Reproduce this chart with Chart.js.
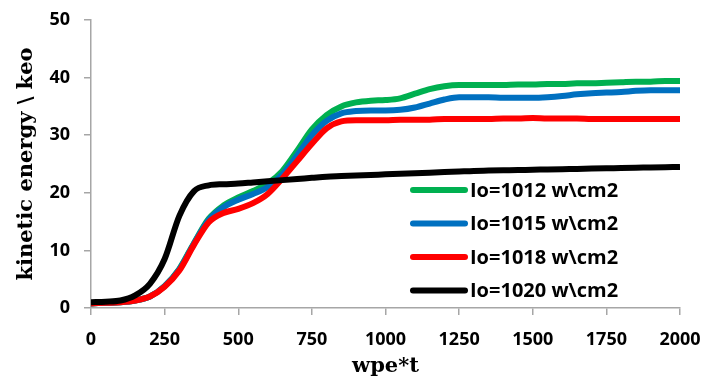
<!DOCTYPE html>
<html>
<head>
<meta charset="utf-8">
<script src="https://cdn.jsdelivr.net/npm/chart.js@4"></script>
<style>
    body { margin: 0; background: #fff; }
    canvas { display: block; }
</style>
</head>
<body>
<canvas id="chart1" width="707" height="383"></canvas>
<script>

    /************** DATA **************/
    let timeSteps = [0, 50, 100, 150, 200, 250, 300, 350, 400, 450, 500, 550, 600, 650, 700, 750, 800, 850, 900, 950,
        1000, 1050, 1100, 1150, 1200, 1250, 1300, 1350, 1400, 1450, 1500, 1550, 1600, 1650, 1700, 1750, 1800, 1850, 1900, 1950, 2000]

    let io1012 = [0.8, 0.9, 1.0, 1.3, 2.0, 3.8, 6.8, 11.3, 15.5, 17.8, 19.2, 20.3, 21.6, 23.8, 27.3, 31.0, 33.5, 35.0, 35.7, 36.0,
        36.1, 36.4, 37.2, 38.0, 38.5, 38.7, 38.7, 38.7, 38.7, 38.8, 38.8, 38.9, 38.9, 39.0, 39.0, 39.1, 39.2, 39.3, 39.3, 39.4, 39.4]
    let io1015 = [0.8, 0.9, 1.0, 1.3, 2.0, 3.8, 6.7, 11.2, 15.3, 17.5, 18.8, 19.8, 21.0, 23.2, 26.5, 30.0, 32.5, 33.8, 34.2, 34.3,
        34.3, 34.4, 34.8, 35.5, 36.2, 36.6, 36.6, 36.6, 36.5, 36.5, 36.5, 36.6, 36.8, 37.1, 37.3, 37.4, 37.5, 37.7, 37.8, 37.8, 37.8]
    let io1018 = [0.8, 0.9, 1.0, 1.3, 2.0, 3.7, 6.5, 11.0, 14.9, 16.5, 17.2, 18.2, 19.8, 22.5, 25.5, 28.5, 31.2, 32.4, 32.6, 32.6,
        32.6, 32.7, 32.7, 32.7, 32.8, 32.8, 32.8, 32.8, 32.9, 32.9, 33.0, 32.9, 32.9, 32.9, 32.8, 32.8, 32.8, 32.8, 32.8, 32.8, 32.8]
    let io1020 = [1.0, 1.1, 1.3, 2.2, 4.2, 8.5, 16.0, 20.3, 21.3, 21.5, 21.6, 21.8, 22.0, 22.2, 22.4, 22.6, 22.8, 22.9, 23.0, 23.1,
        23.2, 23.3, 23.4, 23.5, 23.6, 23.7, 23.8, 23.85, 23.9, 23.95, 24.0, 24.05, 24.1, 24.15, 24.2, 24.25, 24.3, 24.35, 24.4, 24.45, 24.5]

    let seriesLabels = ["Io=1012 w\\cm2", "Io=1015 w\\cm2", "Io=1018 w\\cm2", "Io=1020 w\\cm2"]
    let seriesColors = ["#00b050", "#0070c0", "#ff0000", "#000000"]
    let xTickStep = 250
    let yTickStep = 10


    /************** CHART **************/
    function toPoints(values) {
        return values.map((v, i) => ({ x: timeSteps[i], y: v }))
    }

    let allSeries = [io1012, io1015, io1018, io1020]
    let datasets = allSeries.map((values, i) => ({
        label: seriesLabels[i],
        data: toPoints(values),
        borderColor: seriesColors[i],
        backgroundColor: seriesColors[i],
        borderWidth: 6,
        pointRadius: 0,
        cubicInterpolationMode: 'monotone',
        order: 4 - i // black on top
    }))

    // legend drawn inside plot, bottom right
    let insideLegend = {
        id: 'insideLegend',
        afterDraw(chart) {
            let ctx = chart.ctx
            let area = chart.chartArea
            ctx.save()
            ctx.font = "bold 20px 'Open Sans'"
            ctx.textBaseline = "middle"
            seriesLabels.forEach((label, i) => {
                let y = area.bottom - 118 + i * 33.5
                ctx.strokeStyle = seriesColors[i]
                ctx.lineWidth = 6
                ctx.lineCap = "round"
                ctx.beginPath()
                ctx.moveTo(area.left + 322, y)
                ctx.lineTo(area.left + 374, y)
                ctx.stroke()
                ctx.fillStyle = "#000"
                ctx.fillText(label, area.left + 379, y + 1)
            })
            ctx.restore()
        }
    }

    let axisColor = "#a6a6a6"
    let tickFont = { family: "'Open Sans'", size: 18, weight: 'bold' }
    let titleFont = { family: "'DejaVu Serif'", size: 21, weight: 'bold' }

    let chart = new Chart(document.getElementById("chart1"), {
        type: 'line',
        data: { datasets: datasets },
        options: {
            responsive: false,
            animation: false,
            layout: { padding: { top: 20, right: 27, left: 0, bottom: 0 } },
            plugins: {
                legend: { display: false },
                tooltip: { enabled: false }
            },
            scales: {
                x: {
                    type: 'linear',
                    min: 0,
                    max: 2000,
                    ticks: { stepSize: xTickStep, color: '#000', font: tickFont, padding: 14, maxRotation: 0,
                        callback: (v) => String(v) },
                    grid: { drawOnChartArea: false, drawTicks: true, tickLength: 7, color: axisColor, lineWidth: 1.5 },
                    border: { color: axisColor, width: 1.5 },
                    title: { display: true, text: 'wpe*t', color: '#000', font: titleFont, padding: { top: 0 } },
                    afterFit(scale) {
                        scale.height = 75
                        scale.paddingLeft = 0
                        scale.paddingRight = 0
                    }
                },
                y: {
                    min: 0,
                    max: 50,
                    ticks: { stepSize: yTickStep, color: '#000', font: tickFont, padding: 14 },
                    grid: { drawOnChartArea: false, drawTicks: true, tickLength: 7, color: axisColor, lineWidth: 1.5 },
                    border: { color: axisColor, width: 1.5 },
                    title: { display: true, text: 'kinetic energy \\ keo', color: '#000', font: titleFont, padding: { top: 14, bottom: 0 } },
                    afterFit(scale) {
                        scale.width = 91
                        scale.paddingTop = 0
                        scale.paddingBottom = 0
                    }
                }
            }
        },
        plugins: [insideLegend]
    })

</script>
</body>
</html>
